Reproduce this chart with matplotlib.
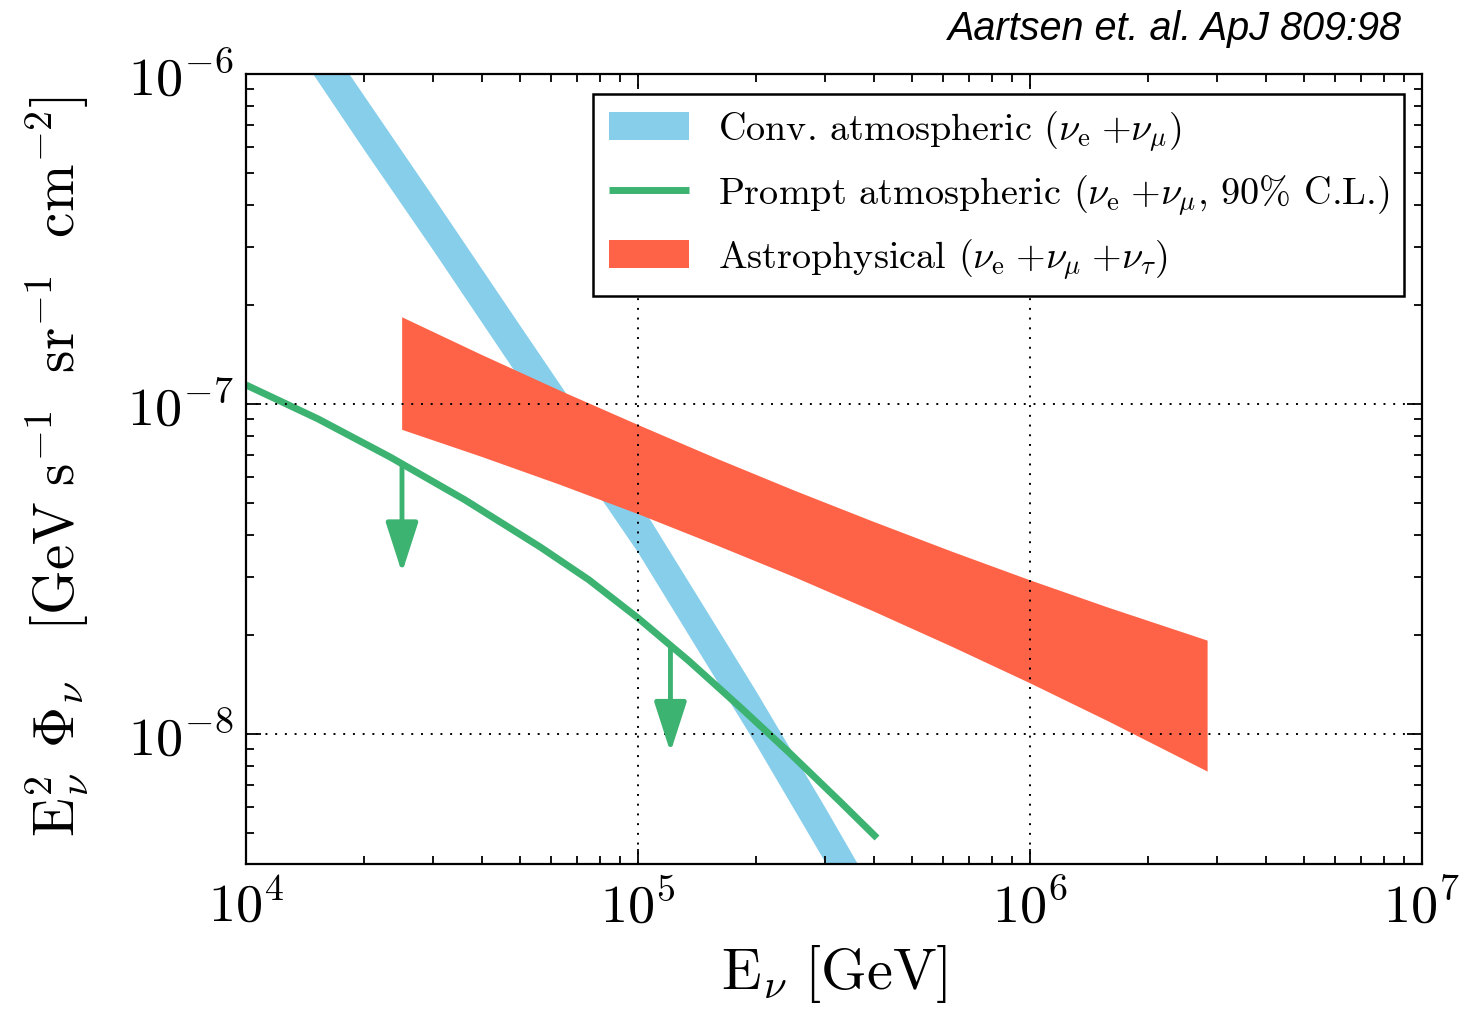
import matplotlib
matplotlib.use("Agg")
import matplotlib.pyplot as plt
from matplotlib.ticker import LogLocator, NullFormatter

plt.rcParams["font.family"] = ["cmr10"]
plt.rcParams["mathtext.fontset"] = "cm"
plt.rcParams["axes.formatter.use_mathtext"] = True
plt.rcParams["axes.unicode_minus"] = True

# conventional atmospheric band (nu_e + nu_mu)
conv_E = [1e4, 1.5e4, 2e4, 3e4, 5e4, 7e4, 1e5, 1.5e5, 2e5, 3e5, 4e5]
conv_hi = [2.75e-6, 1.42e-6, 8.6e-7, 4.25e-7, 1.73e-7, 9.6e-8, 5.12e-8, 2.35e-8, 1.35e-8, 6.0e-9, 3.32e-9]
conv_lo = [1.90e-6, 9.8e-7, 5.9e-7, 2.93e-7, 1.19e-7, 6.6e-8, 3.55e-8, 1.62e-8, 9.3e-9, 4.1e-9, 2.28e-9]

# prompt atmospheric upper limit (90% C.L.)
prompt_E = [1.0e4, 1.527e4, 2.33e4, 3.62e4, 5.623e4, 7.5e4, 1.0e5, 1.349e5, 1.821e5,
            2.443e5, 3.276e5, 4.071e5]
prompt_F = [1.142e-7, 9.01e-8, 6.91e-8, 5.12e-8, 3.69e-8, 2.93e-8, 2.246e-8, 1.664e-8,
            1.207e-8, 8.73e-9, 6.24e-9, 4.84e-9]
arrow_E = [2.5e4, 1.21e5]
arrow_top = [6.59e-8, 1.86e-8]
arrow_tip = [3.08e-8, 8.8e-9]

# astrophysical band (nu_e + nu_mu + nu_tau)
astro_E = [2.495e4, 3.98e4, 6.31e4, 1.0e5, 1.585e5, 2.512e5, 3.981e5, 6.31e5, 1.0e6,
           1.585e6, 2.83e6]
astro_hi = [1.838e-7, 1.414e-7, 1.101e-7, 8.66e-8, 6.85e-8, 5.47e-8, 4.41e-8, 3.58e-8,
            2.93e-8, 2.42e-8, 1.925e-8]
astro_lo = [8.38e-8, 6.94e-8, 5.71e-8, 4.65e-8, 3.74e-8, 2.99e-8, 2.36e-8, 1.844e-8,
            1.428e-8, 1.094e-8, 7.72e-9]

blue = "skyblue"
green = "mediumseagreen"
red = "tomato"

fig = plt.figure(figsize=(14.77, 10.13), dpi=100)
ax = fig.add_axes([246 / 1477, 1 - 864 / 1013, 1176 / 1477, 790 / 1013])

ax.fill_between(conv_E, conv_lo, conv_hi, color=blue, lw=0,
                label=r"Conv. atmospheric $(\nu_{\rm e}\;{+}\nu_{\mu})$")
ax.plot(prompt_E, prompt_F, color=green, lw=5, solid_capstyle="butt",
        label=r"Prompt atmospheric $(\nu_{\rm e}\;{+}\nu_{\mu}$, 90% C.L.)")
ax.fill_between(astro_E, astro_lo, astro_hi, color=red, lw=0,
                label=r"Astrophysical $(\nu_{\rm e}\;{+}\nu_{\mu}\;{+}\nu_{\tau})$")

for e, top, tip in zip(arrow_E, arrow_top, arrow_tip):
    ax.annotate("", xy=(e, tip), xytext=(e, top),
                arrowprops=dict(arrowstyle="-|>,head_length=1.55,head_width=0.5",
                                color=green, lw=3.5, shrinkA=0, shrinkB=0,
                                mutation_scale=20))

ax.set_xscale("log")
ax.set_yscale("log")
ax.set_xlim(1e4, 1e7)
ax.set_ylim(10 ** -8.394, 1e-6)

ax.xaxis.set_minor_locator(LogLocator(base=10, subs=range(2, 10), numticks=20))
ax.yaxis.set_minor_locator(LogLocator(base=10, subs=range(2, 10), numticks=20))
ax.xaxis.set_minor_formatter(NullFormatter())
ax.yaxis.set_minor_formatter(NullFormatter())

ax.tick_params(which="both", direction="in", top=True, right=True, width=1.3)
ax.tick_params(which="major", length=11, labelsize=39, pad=11)
ax.tick_params(which="minor", length=6)
ax.tick_params(axis="y", which="major", pad=9)
for s in ax.spines.values():
    s.set_linewidth(1.6)

ax.grid(True, which="major", color="k", lw=1.4, linestyle=(0, (1, 4)))
ax.set_axisbelow(False)

ax.set_xlabel(r"$\mathrm{E}_{\nu}\ [\mathrm{GeV}]$", fontsize=42)
ax.set_ylabel(r"$\mathrm{E}_{\nu}^{2}\ \,\Phi_{\nu}\ \ \ [\mathrm{GeV\ s}^{-1}\ \ \mathrm{sr}^{-1}\ \ \mathrm{cm}^{-2}]$",
              fontsize=41)
ax.xaxis.set_label_coords(0.5, -0.1)
ax.yaxis.set_label_coords(-0.132, 0.503)

leg = ax.legend(loc="upper right", bbox_to_anchor=(1404 / 1477, 1 - 94 / 1013),
                bbox_transform=fig.transFigure, borderaxespad=0, fontsize=27.5,
                frameon=True, fancybox=False, edgecolor="k", framealpha=1,
                handlelength=2.1, handleheight=0.75, handletextpad=0.75,
                labelspacing=0.52, borderpad=0.4)
leg.get_frame().set_linewidth(1.8)
leg.set_zorder(5)

fig.text(1402 / 1477, 1 - 40 / 1013, "Aartsen et. al. ApJ 809:98",
         family="Liberation Sans", style="italic", fontsize=28.5,
         ha="right", va="baseline")

fig.savefig("out.png", dpi=100)
